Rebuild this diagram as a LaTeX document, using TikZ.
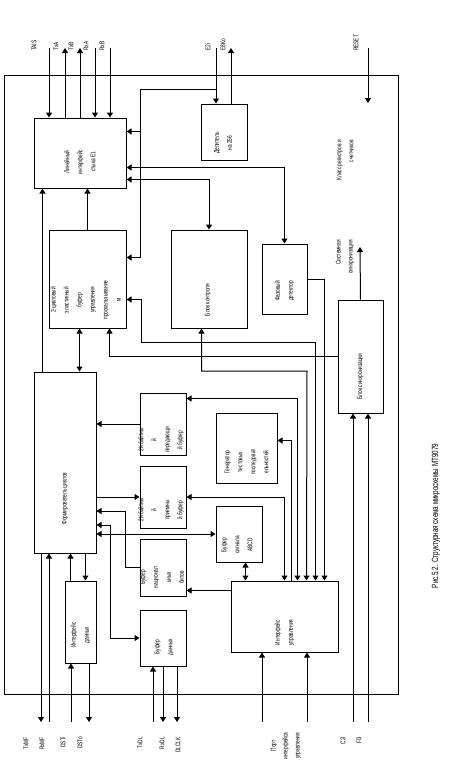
\documentclass[tikz,border=0pt]{standalone}
\usepackage{fontspec}
\newfontfamily\narrowfont[FakeStretch=0.7]{Liberation Sans}
\usetikzlibrary{arrows.meta, calc, fit}
\tikzset{
    blok/.style={draw, line width=1pt, inner sep=0pt},
    blokText/.style={rotate=90, font=\narrowfont\fontsize{6.8}{13}\selectfont, align=center, inner sep=0pt},
    pinText/.style={rotate=90, font=\narrowfont\fontsize{6.8}{12}\selectfont, align=center, inner sep=0pt},
    sigEdge/.style={-{Triangle[length=5pt, width=6pt]}, line width=1pt},
    sigBoth/.style={{Triangle[length=5pt, width=6pt]}-{Triangle[length=5pt, width=6pt]}, line width=1pt},
    sigLine/.style={line width=1pt},
}
\newcommand{\drawBlock}[5][0,0]{
    \node[blok, fit={(#3) (#4)}] (#2) {};
    \node[blokText] (#2T) at ($(#2.center)+(#1)$) {#5};
}
\newcommand{\pinTop}[4]{
    \coordinate (#1) at (#2,48);
    \node[pinText, anchor=west] (#1T) at (#3,51) {#4};
}
\newcommand{\pinBot}[4]{
    \coordinate (#1) at (#2,722);
    \node[pinText, anchor=east] (#1T) at (#3,737) {#4};
}
\begin{document}
\begin{tikzpicture}[x=1pt, y=-1pt]
        \useasboundingbox (0,0) rectangle (448,779);
        \node[blok, fit={(4,75) (398,694)}] (frame) {};

        % блоки
        \drawBlock[0,9]{lin}{34,118}{126,188}{Линейный\\интерфейс\\стыка E1}
        \drawBlock[-1,11]{del}{201,104}{247,160}{Делитель\\на 256}
        \drawBlock[-2,21]{buf2}{49,230}{126,328}{2-цикловый\\эластичный\\буфер\\управления\\проскальзывание\\м}
        \drawBlock[-1,21]{ctrl}{171,230}{247,328}{Блок контроля}
        \drawBlock[0,12]{phd}{262,244}{307,314}{Фазовый\\детектор}
        \drawBlock[0,20]{sync}{338,300}{383,413}{Блок синхронизации}
        \drawBlock[0,36]{form}{34,372}{96,553}{Формирователь циклов}
        \drawBlock[-2,16]{txb}{140,393}{186,455}{2К-байтны\\й\\передающи\\й буфер}
        \drawBlock[-2,13]{rxb}{140,466}{186,528}{2К-байтны\\й\\приемны\\й буфер}
        \drawBlock[-1,10]{nat}{140,539}{186,596}{Буфер\\национал\\ьных\\битов}
        \drawBlock[1,9]{bufd}{140,610}{186,666}{Буфер\\данных}
        \drawBlock[0,13]{ifd}{65,581}{96,663}{Интерфейс\\данных}
        \drawBlock[-2,11]{abcd}{216,506}{262,562}{Буфер\\сигнала\\ABCD}
        \drawBlock[0,14]{gen}{216,413}{277,483}{Генератор\\тестовых\\последоват\\ельностей}
        \drawBlock[0,16]{ifu}{231,581}{338,652}{Интерфейс\\управления}

        \node[pinText, align=right, anchor=east] (regT) at (345,140) {Класс регистров и\\счетчиков};
        \node[pinText, align=right, anchor=east] (sysT) at (345,240) {Системная\\синхронизация};
        \node[pinText, font=\narrowfont\fontsize{9}{11}\selectfont] (capT) at (436,516) {Рис.5.2. Структурная схема микросхемы MT9079};

        % выводы
        \pinTop{pTAIS}{49}{34}{TAIS}
        \pinTop{pTxA}{65}{56}{TxA}
        \pinTop{pTxB}{80}{71}{TxB}
        \pinTop{pRxA}{95}{86}{RxA}
        \pinTop{pRxB}{110}{102}{RxB}
        \pinTop{pE2i}{216}{208}{E2i}
        \pinTop{pE8Ko}{231}{223}{E8Ko}
        \pinTop{pRST}{368}{356}{RESET}
        \pinBot{pTxMF}{41}{26}{TxMF}
        \pinBot{pRxMF}{49}{42}{RxMF}
        \pinBot{pDSTi}{71}{63}{DSTi}
        \pinBot{pDSTo}{89}{80}{DSTo}
        \pinBot{pTxDL}{153}{140}{TxDL}
        \pinBot{pRxDL}{163}{162}{RxDL}
        \pinBot{pDLCK}{177}{178}{DLCLK}
        \pinBot{pC2i}{353}{343}{C2i}
        \pinBot{pF0i}{368}{359}{F0i}
        \coordinate (pP1) at (262,722);
        \coordinate (pP2) at (307,722);
        \node[pinText] (pPT) at (286,746) {Порт\\интерфейса\\управления};

        \coordinate (kR) at (368,103);
        \coordinate (kS) at (360,247);
        \coordinate (kE) at (140,89);
        \coordinate (kA) at (141,342);
        \coordinate (kC) at (307,371);
        \coordinate (kD) at (125,511);
        \coordinate (kF) at (110,525);

        \draw[sigEdge] (pTAIS) -- (pTAIS |- lin.north);
        \draw[sigEdge] (pTxA |- lin.north) -- (pTxA);
        \draw[sigEdge] (pTxB |- lin.north) -- (pTxB);
        \draw[sigEdge] (pRxA) -- (pRxA |- lin.north);
        \draw[sigEdge] (pRxB) -- (pRxB |- lin.north);
        \draw[sigEdge] (pE2i) -- (pE2i |- del.north);
        \draw[sigEdge] (pE8Ko |- del.north) -- (pE8Ko);
        \draw[sigEdge] (pRST) -- (kR);

        \draw[sigLine] (pE2i |- kE) -- (kE);
        \draw[sigEdge] (kE) |- ([yshift=-14pt]lin.north east);
        \draw[sigEdge] (kE) |- ([yshift=-28pt]buf2.north east);
        \draw[sigBoth] (phd.north) |- ([yshift=-50pt]lin.north east);
        \draw[sigBoth] (ctrl.north) |- ([yshift=-62pt]lin.north east);
        \draw[sigEdge] ([xshift=9pt]form.north west) -- ([xshift=9pt]lin.south west);
        \draw[sigEdge] ([xshift=39pt]buf2.north west) -- ([xshift=54pt]lin.south west);
        \draw[sigBoth] ([xshift=31pt]buf2.south west) -- ([xshift=46pt]form.north west);

        \draw[sigEdge] (phd.east) -| ([xshift=94pt]ifu.north west);
        \draw[sigEdge] (sync.west) -| ([xshift=61pt]buf2.south west);
        \draw[sigBoth] ([xshift=85pt]ifu.north west) |- (kA) |- ([yshift=-70pt]buf2.north east);
        \draw[sigBoth] ([xshift=31pt]ctrl.south west) |- (kC) -- ([xshift=76pt]ifu.north west);
        \draw[sigBoth] ([yshift=-6pt]txb.north east) -| ([xshift=67pt]ifu.north west);
        \draw[sigBoth] (rxb.east) -| ([xshift=54pt]ifu.north west);
        \draw[sigEdge] ([xshift=61pt]ifu.north west) |- ([yshift=-28pt]gen.north east);
        \draw[sigBoth] ([xshift=30pt]abcd.south west) -- ([xshift=15pt]ifu.north west);
        \draw[sigEdge] ([yshift=-10pt]ifu.north west) -- ([yshift=-52pt]nat.north east);
        \draw[sigEdge] (sync.north) -- (kS);

        \draw[sigEdge] (txb.west) -- (txb.west -| form.east);
        \draw[sigEdge] (rxb.west -| form.east) -- (rxb.west);
        \draw[sigBoth] (abcd.west -| form.east) -- (abcd.west);
        \draw[sigEdge] (nat.west) -| (kD) -- (kD -| form.east);
        \draw[sigBoth] (kF -| form.east) -- (kF) |- (bufd.west);
        \draw[sigEdge] ([xshift=52pt]form.south west) -- ([xshift=21pt]ifd.north west);
        \draw[sigEdge] ([xshift=6pt]ifd.north west) -- ([xshift=37pt]form.south west);

        \draw[sigEdge] (pTxMF |- form.south) -- (pTxMF);
        \draw[sigEdge] (pRxMF) -- (pRxMF |- form.south);
        \draw[sigEdge] (pDSTi) -- (pDSTi |- ifd.south);
        \draw[sigEdge] (pDSTo |- ifd.south) -- (pDSTo);
        \draw[sigEdge] (pTxDL) -- (pTxDL |- bufd.south);
        \draw[sigEdge] (pRxDL |- bufd.south) -- (pRxDL);
        \draw[sigEdge] (pDLCK |- bufd.south) -- (pDLCK);
        \draw[sigEdge] (pP1) -- (pP1 |- ifu.south);
        \draw[sigEdge] (pP2) -- (pP2 |- ifu.south);
        \draw[sigEdge] (pC2i) -- (pC2i |- sync.south);
        \draw[sigEdge] (pF0i) -- (pF0i |- sync.south);

    \end{tikzpicture}
\end{document}
